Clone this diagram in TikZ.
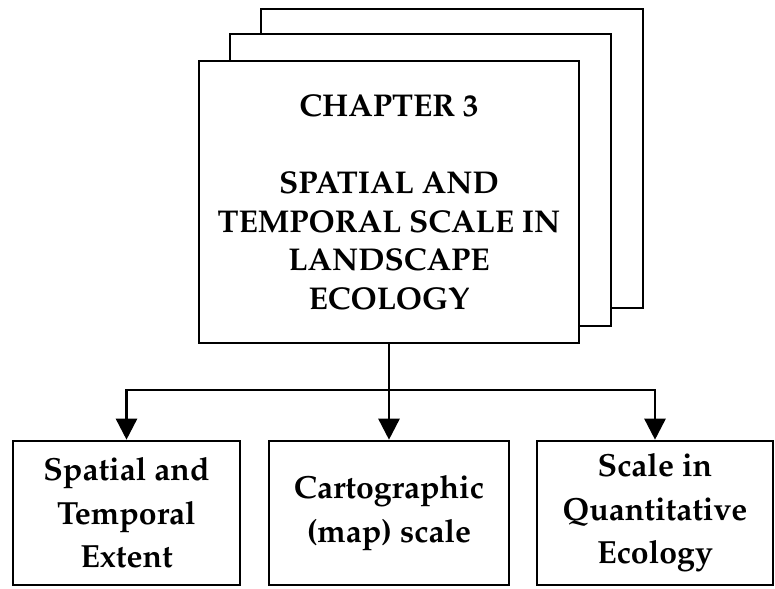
\documentclass[tikz,border=0pt]{standalone}
\usepackage[T1]{fontenc}
\usepackage{mathpazo}
\usetikzlibrary{arrows.meta}
\begin{document}
\begin{tikzpicture}[x=1pt,y=-1pt,
  frame/.style={draw=black,line width=2.6pt,fill=white},
  sub/.style={frame,minimum width=230pt,minimum height=144pt,inner sep=0pt,
    align=center,font=\bfseries\fontsize{32}{43.5}\selectfont},
  arr/.style={line width=2.6pt,-{Triangle[width=21pt,length=21pt]}}]
\useasboundingbox (0,0) rectangle (775,588);
% stacked pages behind the chapter box
\draw[frame] (261,9) rectangle (643,308);
\draw[frame] (230,34) rectangle (611,326);
\node[frame,minimum width=380pt,minimum height=282pt,inner sep=0pt,align=center,
  font=\bfseries\fontsize{31.5}{38.5}\selectfont] (main) at (389,202)
  {CHAPTER 3\\[38.5pt]SPATIAL AND\\TEMPORAL SCALE IN\\LANDSCAPE\\ECOLOGY};
% three topics
\node[sub,minimum width=227pt] (b1) at (126.5,513) {Spatial and\\Temporal\\Extent};
\node[sub,minimum width=240pt] (b2) at (389,513) {Cartographic\\(map) scale};
\node[sub,minimum width=236pt] (b3) at (655,513) {Scale in\\Quantitative\\Ecology};
% connectors
\coordinate (bus) at (389,390);
\draw[arr] (main.south) -- (b2.north);
\draw[arr] (bus) -| (b1.north);
\draw[arr] (bus) -| (b3.north);
\end{tikzpicture}
\end{document}
